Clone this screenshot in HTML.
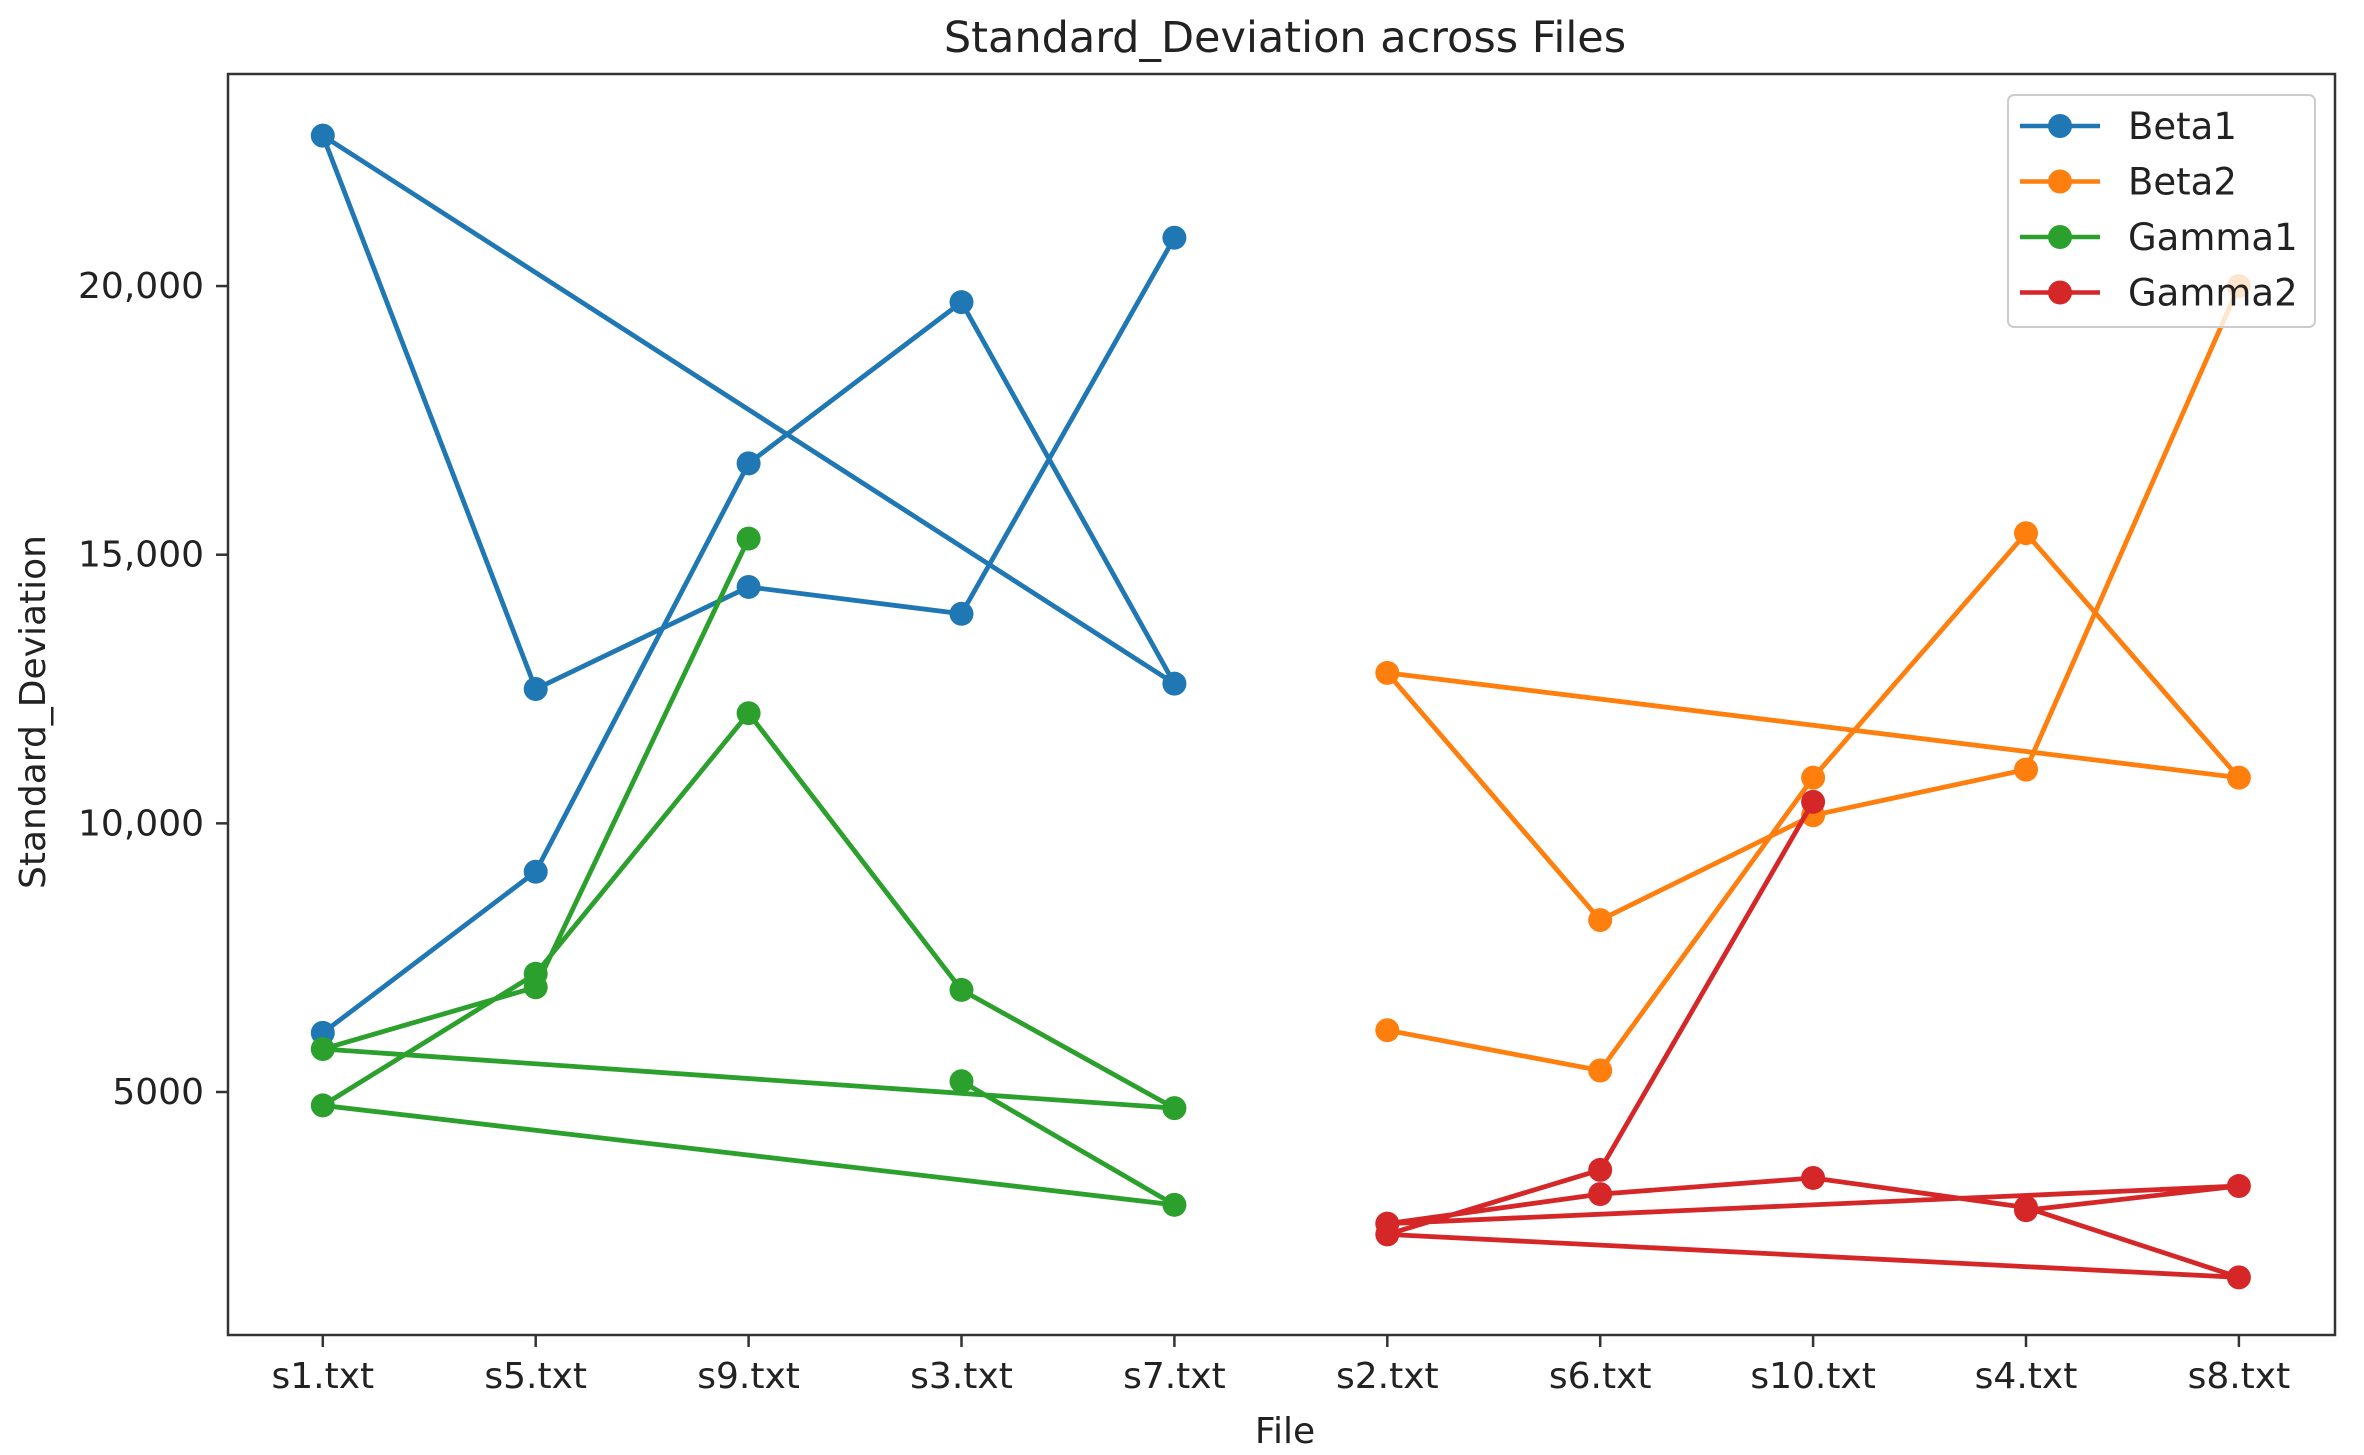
<!DOCTYPE html>
<html><head><meta charset="utf-8"><style>
html,body{margin:0;padding:0;background:#fff;}
svg{display:block;font-family:"DejaVu Sans","Liberation Sans",sans-serif;}
</style></head><body>
<svg id="chart" width="2364" height="1455" viewBox="0 0 2364 1455" xmlns="http://www.w3.org/2000/svg">
<rect x="0" y="0" width="2364" height="1455" fill="#fff"/>
<text x="1285" y="52" font-size="43" text-anchor="middle" fill="#222">Standard_Deviation across Files</text>
<g id="grid"></g>
<g id="series"></g>
<rect x="228" y="74" width="2107" height="1261" fill="none" stroke="#333" stroke-width="2.5"/>
<g id="axes"></g>
<text x="1285" y="1443" font-size="36" text-anchor="middle" fill="#222">File</text>
<text transform="translate(45,712) rotate(-90)" font-size="36" text-anchor="middle" fill="#222">Standard_Deviation</text>
<g id="legend"></g>
</svg>
<script>
const categories = ["s1.txt","s5.txt","s9.txt","s3.txt","s7.txt","s2.txt","s6.txt","s10.txt","s4.txt","s8.txt"];
const yTicks = [5000,10000,15000,20000];
const yTickLabels = ["5000","10,000","15,000","20,000"];
const seriesNames = ["Beta1","Beta2","Gamma1","Gamma2"];
const seriesColors = ["#1f77b4","#ff7f0e","#2ca02c","#d62728"];
const beta1Files = ["s1.txt","s5.txt","s9.txt","s3.txt","s7.txt","s1.txt","s5.txt","s9.txt","s3.txt","s7.txt"];
const beta1Values = [6100,9100,16700,19700,12600,22800,12500,14400,13900,20900];
const beta2Files = ["s2.txt","s6.txt","s10.txt","s4.txt","s8.txt","s2.txt","s6.txt","s10.txt","s4.txt","s8.txt"];
const beta2Values = [6150,5400,10850,15400,10850,12800,8200,10150,11000,20000];
const gamma1Files = ["s3.txt","s7.txt","s1.txt","s5.txt","s9.txt","s3.txt","s7.txt","s1.txt","s5.txt","s9.txt"];
const gamma1Values = [5200,2900,4750,7200,12050,6900,4700,5800,6950,15300];
const gamma2Files = ["s4.txt","s8.txt","s2.txt","s6.txt","s10.txt","s4.txt","s8.txt","s2.txt","s6.txt","s10.txt"];
const gamma2Values = [2800,3250,2550,3100,3400,2850,1550,2350,3550,10400];

const NS="http://www.w3.org/2000/svg";
function xScale(cat){return 322.8 + categories.indexOf(cat)*212.9;}
function yScale(v){return 1092 - (v-5000)*0.05373;}
function mk(tag,attrs,parent){const e=document.createElementNS(NS,tag);for(const k in attrs)e.setAttribute(k,attrs[k]);parent.appendChild(e);return e;}

const axes=document.getElementById('axes');
categories.forEach((c,i)=>{
  const x=xScale(c);
  const t=mk('line',{x1:x,x2:x,y1:1335,y2:1347,stroke:'#333','stroke-width':2.5},axes);
  
  
  const l=mk('text',{x:x,y:1388,'font-size':36,'text-anchor':'middle',fill:'#222'},axes);
  l.textContent=c;
  
  
});
yTicks.forEach((v,i)=>{
  const y=yScale(v);
  const t=mk('line',{x1:216,x2:228,y1:y,y2:y,stroke:'#333','stroke-width':2.5},axes);
  
  
  const l=mk('text',{x:204,y:y+12,'font-size':36,'text-anchor':'end',fill:'#222'},axes);
  l.textContent=yTickLabels[i];
  
  
});

const sg=document.getElementById('series');
const allFiles=[beta1Files,beta2Files,gamma1Files,gamma2Files];
const allVals=[beta1Values,beta2Values,gamma1Values,gamma2Values];
allVals.forEach((vals,s)=>{
  const g=mk('g',{},sg);
  
  
  const pts=vals.map((v,i)=>xScale(allFiles[s][i])+','+yScale(v)).join(' ');
  const pl=mk('polyline',{points:pts,fill:'none',stroke:seriesColors[s],'stroke-width':4.8,'stroke-linejoin':'round'},g);
  
  
  vals.forEach((v,i)=>{
    const c=mk('circle',{cx:xScale(allFiles[s][i]),cy:yScale(v),r:12,fill:seriesColors[s]},g);
    
    
  });
});

const lg=document.getElementById('legend');


mk('rect',{x:2008,y:95,width:307,height:232,rx:6,fill:'#fff','fill-opacity':0.8,stroke:'#ccc','stroke-width':2},lg);
seriesNames.forEach((n,i)=>{
  const y=126+i*55.5;
  const e=mk('g',{},lg);
  
  
  mk('line',{x1:2020,x2:2100,y1:y,y2:y,stroke:seriesColors[i],'stroke-width':4.5},e);
  mk('circle',{cx:2060,cy:y,r:12,fill:seriesColors[i]},e);
  const t=mk('text',{x:2128,y:y+13,'font-size':37,fill:'#222'},e);
  t.textContent=n;
});
</script>
</body></html>
